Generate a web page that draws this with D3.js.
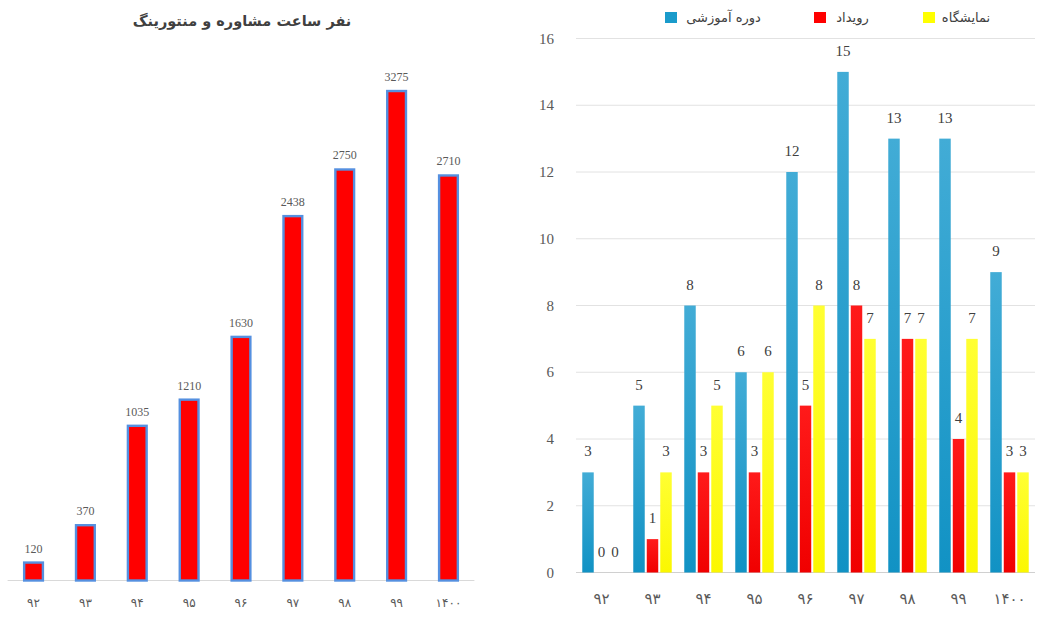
<!DOCTYPE html>
<html>
<head>
<meta charset="utf-8">
<script src="https://cdn.jsdelivr.net/npm/d3@7"></script>
<style>
  html, body { margin: 0; padding: 0; background: #fff; }
  svg { display: block; }
</style>
</head>
<body>
<svg id="chart" width="1041" height="623"></svg>
<script>
// Years (Persian calendar) shown on both charts
const years = ["۹۲", "۹۳", "۹۴", "۹۵", "۹۶", "۹۷", "۹۸", "۹۹", "۱۴۰۰"];

// Left chart: consulting & mentoring person-hours
const mentoringTitle = "نفر ساعت مشاوره و منتورینگ";
const mentoringHours = [120, 370, 1035, 1210, 1630, 2438, 2750, 3275, 2710];

// Right chart: counts of courses, events and exhibitions
const seriesNames = ["دوره آموزشی", "رویداد", "نمایشگاه"];
const courses = [3, 5, 8, 6, 12, 15, 13, 13, 9];
const events = [0, 1, 3, 3, 5, 8, 7, 4, 3];
const exhibitions = [0, 3, 5, 6, 8, 7, 7, 7, 3];
const yTicks = [0, 2, 4, 6, 8, 10, 12, 14, 16];

const svg = d3.select("#chart");
const numFont = "'Liberation Serif', 'Times New Roman', serif";
const faFont = "'DejaVu Sans', 'Noto Sans', sans-serif";
const labelGray = "#595959";

// gradients for the grouped bars
const defs = svg.append("defs");
function grad(id, top, bottom) {
  const g = defs.append("linearGradient").attr("id", id)
    .attr("x1", 0).attr("y1", 0).attr("x2", 0).attr("y2", 1);
  g.append("stop").attr("offset", "0%").attr("stop-color", top);
  g.append("stop").attr("offset", "100%").attr("stop-color", bottom);
}
grad("gBlue", "#42acd6", "#1192c4");
grad("gRed", "#ff1a1a", "#f00000");
grad("gYellow", "#ffff33", "#fbf700");

// ---------- Left chart ----------
const xL = d3.scaleBand().domain(years).range([7.6, 474.4])
  .paddingInner(0.6).paddingOuter(0.3);
const yL = d3.scaleLinear().domain([0, 3500]).range([580.5, 57.4]);

const left = svg.append("g");
left.append("text")
  .attr("x", 242).attr("y", 26)
  .attr("text-anchor", "middle")
  .attr("direction", "rtl")
  .attr("font-family", faFont).attr("font-weight", "bold")
  .attr("font-size", 14.5).attr("fill", "#404040")
  .text(mentoringTitle);

left.append("line")
  .attr("x1", 7.6).attr("x2", 474.4)
  .attr("y1", yL(0)).attr("y2", yL(0))
  .attr("stroke", "#d9d9d9").attr("stroke-width", 1);

left.selectAll("rect.m").data(mentoringHours).join("rect")
  .attr("class", "m")
  .attr("x", (d, i) => xL(years[i]) + 1)
  .attr("width", xL.bandwidth() - 2)
  .attr("y", d => yL(d))
  .attr("height", d => yL(0) - yL(d))
  .attr("fill", "#ff0000")
  .attr("stroke", "#5590e0").attr("stroke-width", 2.4);

left.selectAll("text.mv").data(mentoringHours).join("text")
  .attr("class", "mv")
  .attr("x", (d, i) => xL(years[i]) + xL.bandwidth() / 2)
  .attr("y", d => yL(d) - 10)
  .attr("text-anchor", "middle")
  .attr("font-family", numFont).attr("font-size", 12)
  .attr("fill", labelGray)
  .text(d => d);

left.selectAll("text.mx").data(years).join("text")
  .attr("class", "mx")
  .attr("x", d => xL(d) + xL.bandwidth() / 2)
  .attr("y", 607)
  .attr("text-anchor", "middle")
  .attr("font-family", faFont).attr("font-size", 12)
  .attr("fill", labelGray)
  .text(d => d);

// ---------- Right chart ----------
const x0 = d3.scaleBand().domain(years).range([576, 1035])
  .paddingInner(0.206).paddingOuter(0.103);
const x1 = d3.scaleBand().domain(seriesNames).range([0, x0.bandwidth()])
  .paddingInner(0.15).paddingOuter(0.075);
const yR = d3.scaleLinear().domain([0, 16]).range([572.5, 38.5]);

const right = svg.append("g");

right.selectAll("line.grid").data(yTicks).join("line")
  .attr("class", "grid")
  .attr("x1", 576).attr("x2", 1035)
  .attr("y1", d => yR(d)).attr("y2", d => yR(d))
  .attr("stroke", d => d === 0 ? "#d0d0d0" : "#e2e2e2").attr("stroke-width", 1);

right.selectAll("text.yt").data(yTicks).join("text")
  .attr("class", "yt")
  .attr("x", 554).attr("y", d => yR(d) + 5)
  .attr("text-anchor", "end")
  .attr("font-family", numFont).attr("font-size", 15)
  .attr("fill", labelGray)
  .text(d => d);

const seriesData = [courses, events, exhibitions];
const fills = ["url(#gBlue)", "url(#gRed)", "url(#gYellow)"];
const swatch = ["#1a9bcb", "#ff0000", "#ffff00"];

seriesData.forEach((vals, s) => {
  const g = right.append("g");
  g.selectAll("rect").data(vals).join("rect")
    .attr("x", (d, i) => x0(years[i]) + x1(seriesNames[s]))
    .attr("width", x1.bandwidth())
    .attr("y", d => yR(d))
    .attr("height", d => yR(0) - yR(d))
    .attr("fill", fills[s]);
  g.selectAll("text").data(vals).join("text")
    .attr("x", (d, i) => x0(years[i]) + x1(seriesNames[s]) + x1.bandwidth() / 2)
    .attr("y", d => yR(d) - 16)
    .attr("text-anchor", "middle")
    .attr("font-family", numFont).attr("font-size", 15)
    .attr("fill", "#404040")
    .text(d => d);
});

right.selectAll("text.rx").data(years).join("text")
  .attr("class", "rx")
  .attr("x", d => x0(d) + x0.bandwidth() / 2)
  .attr("y", 604)
  .attr("text-anchor", "middle")
  .attr("font-family", faFont).attr("font-size", 15)
  .attr("fill", labelGray)
  .text(d => d);

// legend: swatch on the left of each label
const legendItems = [
  { name: seriesNames[0], sx: 665, tx: 723.5, color: swatch[0] },
  { name: seriesNames[1], sx: 814, tx: 852.5, color: swatch[1] },
  { name: seriesNames[2], sx: 923, tx: 966, color: swatch[2] }
];
const lg = right.append("g");
lg.selectAll("rect").data(legendItems).join("rect")
  .attr("x", d => d.sx).attr("y", 12)
  .attr("width", 12).attr("height", 11)
  .attr("fill", d => d.color);
lg.selectAll("text").data(legendItems).join("text")
  .attr("x", d => d.tx).attr("y", 22)
  .attr("text-anchor", "middle")
  .attr("direction", "rtl")
  .attr("font-family", faFont).attr("font-size", 13)
  .attr("fill", "#404040")
  .text(d => d.name);
</script>
</body>
</html>
